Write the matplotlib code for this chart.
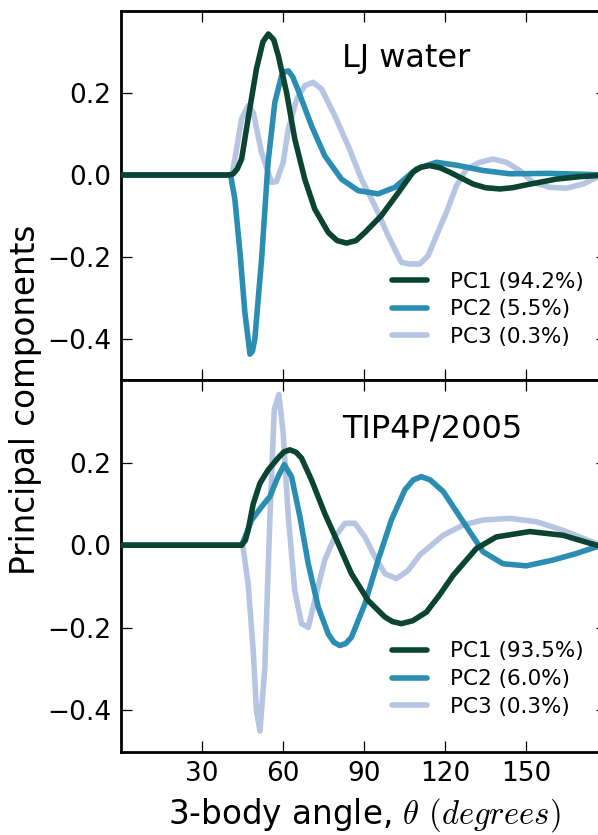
import matplotlib
matplotlib.use("Agg")
import matplotlib.pyplot as plt

plt.rcParams["font.family"] = "DejaVu Sans"
plt.rcParams["mathtext.fontset"] = "cm"

# Principal components of the 3-body angle distribution, two water models
# LJ water
lj_pc1_theta = [0, 40, 41.5, 43, 44.6, 47.0, 50.1, 52.5, 54.5, 56.5, 58.2, 61.3, 64.3, 68.0, 71.7,
                76.7, 80, 83.5, 87, 90.3, 96.4, 103, 108.1, 111, 114.3, 118, 121.7, 130.4, 135,
                140.3, 145, 150.1, 161.2, 170, 180]
lj_pc1 = [0, 0, 0.003, 0.015, 0.039, 0.137, 0.259, 0.325, 0.344, 0.33, 0.291, 0.20, 0.088, -0.01,
          -0.083, -0.14, -0.16, -0.166, -0.16, -0.14, -0.099, -0.04, 0.007, 0.019, 0.023, 0.018,
          0.007, -0.022, -0.031, -0.034, -0.031, -0.024, -0.01, -0.004, 0.0]

lj_pc2_theta = [0, 40.5, 42.1, 44.0, 45.8, 47.7, 48.6, 49.5, 52.0, 54.4, 56.9, 59.4, 60.6, 61.9,
                63.5, 65.6, 70.5, 75.4, 81.6, 87.8, 95.2, 101.4, 105, 109.4, 116.8, 124.2, 134.1,
                144, 158.8, 170, 180]
lj_pc2 = [0, 0, -0.059, -0.189, -0.335, -0.437, -0.43, -0.40, -0.205, 0.031, 0.177, 0.242, 0.252,
          0.254, 0.24, 0.206, 0.12, 0.047, -0.01, -0.038, -0.046, -0.03, -0.01, 0.015, 0.031,
          0.024, 0.011, 0.003, 0.004, 0.002, 0.0]

lj_pc3_theta = [0, 41, 42.1, 44.6, 47.0, 48.9, 52.0, 55.7, 57.5, 60.0, 61.9, 65.0, 68.0, 71.1, 74.2,
                79.1, 84.1, 89.0, 94.0, 98.9, 103.8, 106.9, 110.6, 113.7, 116.8, 120.5, 124.2,
                128.0, 132.9, 137.8, 142.7, 147.7, 152.6, 158.8, 165.0, 171.1, 176.1, 180]
lj_pc3 = [0, 0, 0.039, 0.137, 0.169, 0.153, 0.055, -0.018, -0.016, 0.031, 0.112, 0.185, 0.218,
          0.226, 0.21, 0.145, 0.071, -0.01, -0.075, -0.148, -0.213, -0.217, -0.217, -0.197, -0.148,
          -0.091, -0.026, 0.015, 0.031, 0.039, 0.031, 0.011, -0.018, -0.03, -0.032, -0.022,
          -0.006, 0.0]

# TIP4P/2005
tip_pc1_theta = [0, 44.6, 46, 47.0, 48.9, 51.4, 54.4, 58.1, 60.3, 62.5, 64.8, 66.8, 70.5, 75.4,
                 80.4, 85.3, 91.5, 97.7, 100.5, 103.8, 108, 113.1, 118, 123.0, 131.6, 139.0,
                 151.4, 163.7, 176.1, 180]
tip_pc1 = [0, 0, 0.012, 0.036, 0.10, 0.15, 0.182, 0.211, 0.226, 0.231, 0.225, 0.211, 0.158, 0.077,
           0.004, -0.069, -0.134, -0.174, -0.185, -0.19, -0.183, -0.162, -0.12, -0.073, -0.008,
           0.02, 0.033, 0.024, 0.0, -0.004]

tip_pc2_theta = [0, 44.6, 46.5, 48.3, 52.0, 55.1, 58.1, 60.4, 63.1, 66.2, 69.3, 73.0, 76.7, 78.8,
                 81.0, 83.2, 85.3, 90.3, 95.2, 100.1, 105.1, 108.2, 111.2, 114.5, 119.3, 126.7,
                 134.1, 141.5, 150.1, 160.0, 168.7, 176.1, 180]
tip_pc2 = [0, 0, 0.03, 0.061, 0.093, 0.118, 0.166, 0.195, 0.166, 0.069, -0.045, -0.15, -0.215,
           -0.235, -0.243, -0.238, -0.223, -0.142, -0.036, 0.061, 0.134, 0.158, 0.166, 0.158,
           0.13, 0.057, -0.016, -0.045, -0.05, -0.036, -0.02, -0.004, 0.0]

tip_pc3_theta = [0, 45, 47.0, 48.9, 50.1, 51.4, 53.2, 55.1, 56.7, 58.4, 60.0, 61.9, 64.3, 66.8,
                 69.3, 71.7, 75.4, 79.1, 82.9, 86.6, 90.3, 94.0, 97.7, 102.0, 106.3, 110.6, 119.3,
                 126.7, 134.1, 144, 153.8, 163.7, 176.1, 180]
tip_pc3 = [0, 0, -0.093, -0.255, -0.401, -0.45, -0.296, 0.069, 0.328, 0.365, 0.272, 0.069, -0.11,
           -0.19, -0.199, -0.134, -0.036, 0.02, 0.053, 0.053, 0.02, -0.028, -0.069, -0.081,
           -0.061, -0.024, 0.024, 0.049, 0.061, 0.065, 0.057, 0.036, 0.004, 0.0]

lj_labels = ["PC1 (94.2%)", "PC2 (5.5%)", "PC3 (0.3%)"]
tip_labels = ["PC1 (93.5%)", "PC2 (6.0%)", "PC3 (0.3%)"]
x_ticks = [30, 60, 90, 120, 150]
y_ticks = [-0.4, -0.2, 0.0, 0.2]

colors = ["#0c4434", "#2b8db2", "#b5c5e2"]
lw = 4

fig = plt.figure(figsize=(5.98, 8.35), dpi=100)
ax_top = fig.add_axes([0.2028, 0.5449, 0.8122, 0.4419])
ax_bot = fig.add_axes([0.2028, 0.0998, 0.8122, 0.4451], sharex=ax_top)

panels = [
    (ax_top, "LJ water", lj_labels,
     [(lj_pc1_theta, lj_pc1), (lj_pc2_theta, lj_pc2), (lj_pc3_theta, lj_pc3)], 0.848, 0.294),
    (ax_bot, "TIP4P/2005", tip_labels,
     [(tip_pc1_theta, tip_pc1), (tip_pc2_theta, tip_pc2), (tip_pc3_theta, tip_pc3)], 0.844, 0.2965),
]

for ax, name, labels, series, text_y, leg_y in panels:
    for i, (th, pc) in enumerate(series):
        ax.plot(th, pc, color=colors[i], lw=lw, label=labels[i], zorder=3 - i,
                solid_capstyle="round", solid_joinstyle="round")
    ax.set_xlim(0, 180)
    ax.set_ylim(-0.5, 0.4)
    ax.set_xticks(x_ticks)
    ax.set_yticks(y_ticks)
    ax.tick_params(direction="in", length=8, width=0.9, top=True, right=True,
                   labelsize=19, pad=7)
    for sp in ax.spines.values():
        sp.set_linewidth(2)
    ax.text(0.4538, text_y, name, transform=ax.transAxes, fontsize=23, va="baseline", ha="left")
    ax.legend(loc="upper left", bbox_to_anchor=(0.5567, leg_y), frameon=False, fontsize=15.5,
              borderpad=0, borderaxespad=0, handlelength=1.65, handletextpad=1.05,
              labelspacing=0.36)

ax_top.tick_params(labelbottom=False)
ax_bot.set_xlabel(r"3-body angle, $\theta$ $(degrees)$", fontsize=23.5, labelpad=6)
fig.text(0.042, 0.521, "Principal components", rotation=90, fontsize=23.5,
         ha="center", va="center")

fig.savefig("out.png", dpi=100)
